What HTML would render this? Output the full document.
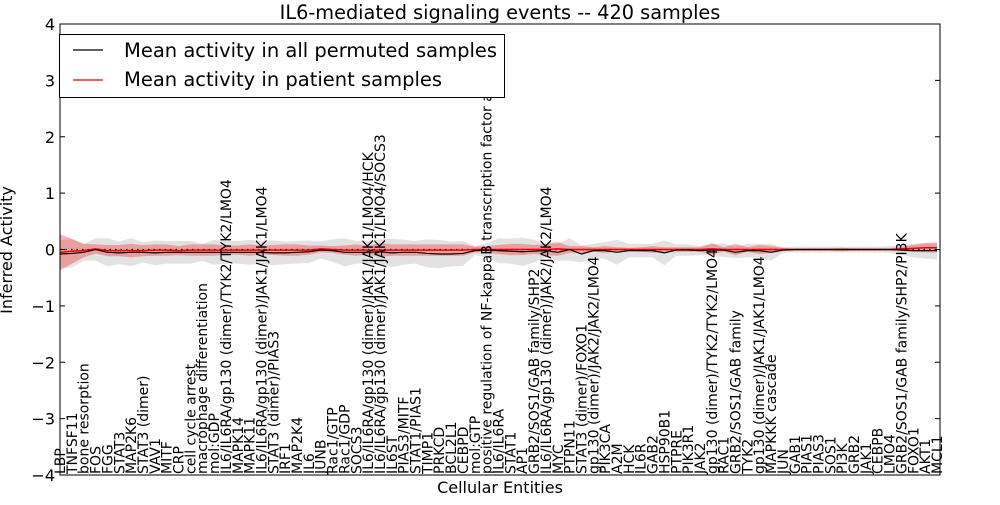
<!DOCTYPE html>
<html><head><meta charset="utf-8"><style>
body{margin:0;background:#fff;}
svg text{font-family:"DejaVu Sans","Liberation Sans",sans-serif;}
</style></head><body>
<svg id="chart" width="1000" height="500" xmlns="http://www.w3.org/2000/svg">
<rect width="1000" height="500" fill="#fff"/>
<text x="500" y="19" font-size="19.3" text-anchor="middle">IL6-mediated signaling events -- 420 samples</text>
<g id="bands"></g>
<g id="lines"></g>
<rect x="60" y="24" width="880" height="451" fill="none" stroke="#000" stroke-width="1"/>
<g id="yaxis"></g>
<g id="xaxis"></g>
<text x="500" y="493" font-size="16" text-anchor="middle">Cellular Entities</text>
<text x="12" y="250" font-size="16" text-anchor="middle" transform="rotate(-90 12 250)">Inferred Activity</text>
<g>
<rect x="59.5" y="34.5" width="445" height="63" fill="#fff" stroke="#000"/>
<line x1="73" y1="50" x2="103" y2="50" stroke="#000" stroke-width="1.2"/>
<text x="124" y="57" font-size="19.5">Mean activity in all permuted samples</text>
<line x1="73" y1="80" x2="103" y2="80" stroke="#e00" stroke-width="1.2"/>
<text x="124" y="86" font-size="19.5">Mean activity in patient samples</text>
</g>
</svg>
<script>
const categories=["LBP","TNFSF11","bone resorption","FOS","FGG","STAT3","MAP2K6","STAT3 (dimer)","VAV1","MITF","CRP","cell cycle arrest","macrophage differentiation","mol:GDP","IL6/IL6RA/gp130 (dimer)/TYK2/TYK2/LMO4","MAPK14","MAPK11","IL6/IL6RA/gp130 (dimer)/JAK1/JAK1/LMO4","STAT3 (dimer)/PIAS3","IRF1","MAP2K4","IL6","JUNB","Rac1/GTP","Rac1/GDP","SOCS3","IL6/IL6RA/gp130 (dimer)/JAK1/JAK1/LMO4/HCK","IL6/IL6RA/gp130 (dimer)/JAK1/JAK1/LMO4/SOCS3","IL6ST","PIAS3/MITF","STAT1/PIAS1","TIMP1","PRKCD","BCL2L1","CEBPD","mol:GTP","positive regulation of NF-kappaB transcription factor a","IL6/IL6RA","STAT1","AP1","GRB2/SOS1/GAB family/SHP2","IL6/IL6RA/gp130 (dimer)/JAK2/JAK2/LMO4","MYC","PTPN11","STAT3 (dimer)/FOXO1","gp130 (dimer)/JAK2/JAK2/LMO4","PIK3CA","A2M","HCK","IL6R","GAB2","HSP90B1","PTPRE","PIK3R1","JAK2","gp130 (dimer)/TYK2/TYK2/LMO4","RAC1","GRB2/SOS1/GAB family","TYK2","gp130 (dimer)/JAK1/JAK1/LMO4","MAPKKK cascade","JUN","GAB1","PIAS1","PIAS3","SOS1","PI3K","GRB2","JAK1","CEBPB","LMO4","GRB2/SOS1/GAB family/SHP2/PI3K","FOXO1","AKT1","MCL1"];
const permutedMean=[-0.08,-0.07,-0.05,0,-0.05,-0.06,-0.05,-0.05,-0.06,-0.05,-0.05,-0.05,-0.05,-0.05,-0.05,-0.05,-0.05,-0.05,-0.06,-0.06,-0.05,-0.04,-0.01,-0.02,-0.05,-0.05,-0.05,-0.04,-0.06,-0.05,-0.05,-0.07,-0.08,-0.08,-0.07,-0.02,-0.01,-0.02,-0.03,-0.04,-0.03,-0.02,-0.05,0,-0.08,-0.02,-0.02,-0.05,-0.02,-0.02,-0.02,-0.06,-0.01,-0.01,-0.02,-0.01,-0.01,-0.05,-0.02,-0.02,-0.05,-0.01,0,0,0,0,0,0,0,0,0,-0.01,-0.02,-0.02,-0.02];
const permutedSpread=[0.25,0.25,0.15,0.2,0.25,0.2,0.25,0.18,0.22,0.2,0.2,0.2,0.15,0.22,0.2,0.2,0.22,0.2,0.22,0.2,0.2,0.2,0.15,0.2,0.25,0.2,0.2,0.22,0.25,0.22,0.2,0.25,0.25,0.22,0.22,0.08,0.12,0.22,0.22,0.25,0.2,0.12,0.15,0.2,0.15,0.12,0.15,0.22,0.12,0.12,0.12,0.22,0.1,0.1,0.08,0.1,0.12,0.1,0.12,0.12,0.15,0.05,0.05,0.05,0.05,0.05,0.05,0.05,0.05,0.05,0.06,0.08,0.12,0.14,0.16];
const patientMean=[-0.05,-0.03,-0.02,0.01,-0.02,-0.02,-0.02,-0.02,-0.01,-0.01,-0.02,-0.01,-0.01,-0.01,-0.01,-0.01,-0.01,-0.01,-0.01,-0.01,-0.01,-0.01,0.01,0,-0.01,-0.01,-0.01,-0.01,-0.01,-0.01,-0.01,-0.01,-0.01,-0.01,-0.01,0,0,0,0,0,0,0,0.01,0,0,0,0,0,0,0,0,0,0,0,0,0.01,0,0,0,0,0,0,0,0,0,0,0,0,0,0,0,0.01,0.02,0.03,0.03];
const patientSpread=[0.32,0.22,0.12,0.08,0.1,0.1,0.12,0.1,0.1,0.1,0.08,0.1,0.1,0.1,0.08,0.08,0.1,0.08,0.09,0.1,0.1,0.08,0.06,0.06,0.08,0.1,0.08,0.12,0.1,0.1,0.1,0.1,0.1,0.1,0.1,0.05,0.06,0.08,0.1,0.1,0.08,0.1,0.12,0.06,0.06,0.04,0.06,0.04,0.03,0.04,0.06,0.04,0.04,0.04,0.04,0.1,0.04,0.1,0.04,0.08,0.06,0.03,0.02,0.02,0.02,0.02,0.03,0.02,0.02,0.02,0.02,0.04,0.06,0.08,0.08];
const yTicks=[4,3,2,1,0,-1,-2,-3,-4];
const NS="http://www.w3.org/2000/svg";
const X0=60,X1=937,Y0=24,Y1=475;
function xs(i){return X0+i*(X1-X0)/(categories.length-1);}
function ys(v){return Y1-(v+4)/8*(Y1-Y0);}
function mk(t,a,p){const e=document.createElementNS(NS,t);for(const k in a)e.setAttribute(k,a[k]);p.appendChild(e);return e;}
const bands=document.getElementById('bands'),lines=document.getElementById('lines');
function band(m,s,fill,name){
  let up=m.map((v,i)=>xs(i)+','+ys(v+s[i])),dn=m.map((v,i)=>xs(i)+','+ys(v-s[i])).reverse();
  const p=mk('polygon',{points:up.concat(dn).join(' '),fill:fill,stroke:'none'},bands);
  
  
}
band(permutedMean,permutedSpread,'rgba(190,190,190,0.45)','permuted-band');
band(patientMean,patientSpread,'rgba(240,60,60,0.4)','patient-band');
const z=mk('line',{x1:X0,x2:940,y1:ys(0),y2:ys(0),stroke:'#000','stroke-dasharray':'1.5,4','stroke-width':1.2},lines);


const pl=mk('polyline',{points:patientMean.map((v,i)=>xs(i)+','+ys(v)).join(' '),fill:'none',stroke:'#e00','stroke-width':1.5},lines);


const bl=mk('polyline',{points:permutedMean.map((v,i)=>xs(i)+','+ys(v)).join(' '),fill:'none',stroke:'#000','stroke-width':1.2},lines);


const ya=document.getElementById('yaxis');
yTicks.forEach(t=>{
  const y=ys(t);
  mk('line',{x1:60,x2:65,y1:y,y2:y,stroke:'#000'},ya);
  mk('line',{x1:935,x2:940,y1:y,y2:y,stroke:'#000'},ya);
  const tx=mk('text',{x:55,y:y+6,'font-size':16,'text-anchor':'end'},ya);
  tx.textContent=(t<0?'\u2212'+(-t):String(t));
  
  
});
const xa=document.getElementById('xaxis');
categories.forEach((c,i)=>{
  const x=xs(i);
  const tx=mk('text',{x:0,y:0,'font-size':14,transform:'translate('+(x+5)+',474) rotate(-90)'},xa);
  tx.textContent=c;
  
  
});
</script>
</body></html>
